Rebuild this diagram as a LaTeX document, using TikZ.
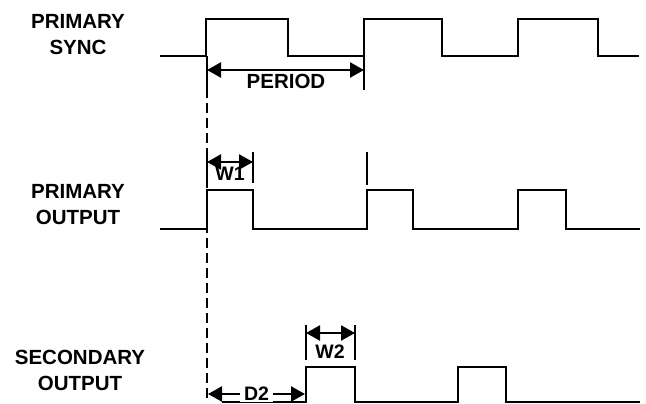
\documentclass[tikz,border=0pt]{standalone}
\usepackage{fontspec}
\setmainfont{Liberation Sans}
\usetikzlibrary{arrows.meta}
\begin{document}
\begin{tikzpicture}[x=1pt,y=-1pt,
  wave/.style={line width=2.3pt, line join=miter},
  dimarrow/.style={line width=2.3pt, {Triangle[length=14pt,width=15pt]}-{Triangle[length=14pt,width=15pt]}},
  ticker/.style={line width=2.3pt},
  dashline/.style={line width=2.3pt, dash pattern=on 10pt off 5pt},
  lbl/.style={font=\fontsize{20.5}{26}\selectfont\bfseries, align=center, inner sep=0pt},
  dimlbl/.style={font=\fontsize{19.5}{22}\selectfont\bfseries, inner sep=0pt}]
\useasboundingbox (0,0) rectangle (646,404);

% signal labels
\node[lbl] (ps) at (78,35) {PRIMARY\\SYNC};
\node[lbl] (po) at (78,205) {PRIMARY\\OUTPUT};
\node[lbl] (so) at (80,370) {SECONDARY\\OUTPUT};

% waveforms
\draw[wave] (160,56) -- (206,56) -- (206,19) -- (288,19) -- (288,56) -- (364,56) -- (364,19) -- (442,19) -- (442,56) -- (518,56) -- (518,19) -- (598,19) -- (598,56) -- (639,56);
\draw[wave] (160,229) -- (207,229) -- (207,190) -- (253,190) -- (253,229) -- (367,229) -- (367,190) -- (413,190) -- (413,229) -- (518,229) -- (518,190) -- (566,190) -- (566,229) -- (640,229);
\draw[wave] (222,402) -- (306,402) -- (306,367) -- (355,367) -- (355,402) -- (458,402) -- (458,367) -- (506,367) -- (506,402) -- (640,402);

% reference line
\coordinate (r0) at (207,56);
\coordinate (r1) at (207,88);
\coordinate (r2) at (207,402);
\draw[ticker] (r0) -- (r1);
\draw[dashline] (r1) -- (r2);

% PERIOD
\coordinate (pa) at (207,70);
\coordinate (pb) at (364,70);
\coordinate (pt0) at (364,56);
\coordinate (pt1) at (364,90);
\draw[ticker] (pt0) -- (pt1);
\draw[dimarrow] (pa) -- (pb);
\node[lbl] (period) at (286,81) {PERIOD};

% W1
\coordinate (w1a) at (207,162);
\coordinate (w1b) at (253,162);
\draw[ticker] (207,152) -- (207,183);
\draw[ticker] (253,152) -- (253,183);
\draw[dimarrow] (w1a) -- (w1b);
\node[dimlbl] (w1) at (230,174) {W1};

% tick at second primary output pulse
\coordinate (q0) at (367,152);
\coordinate (q1) at (367,185);
\draw[ticker] (q0) -- (q1);

% W2
\coordinate (w2a) at (306,333);
\coordinate (w2b) at (355,333);
\draw[ticker] (306,325) -- (306,360);
\draw[ticker] (355,325) -- (355,360);
\draw[dimarrow] (w2a) -- (w2b);
\node[dimlbl] (w2) at (330,352) {W2};

% D2
\coordinate (d2a) at (208,394);
\coordinate (d2b) at (305,394);
\draw[dimarrow] (d2a) -- node[dimlbl, fill=white, inner xsep=4pt, inner ysep=1pt] (d2) {D2} (d2b);
\end{tikzpicture}
\end{document}
